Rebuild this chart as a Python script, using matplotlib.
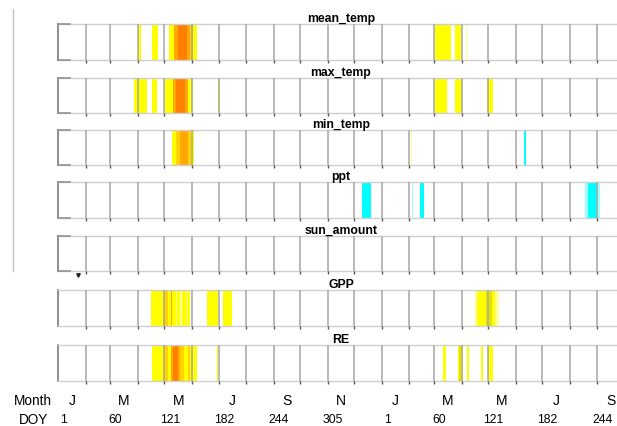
import matplotlib
matplotlib.use("Agg")
import matplotlib.pyplot as plt
import matplotlib.transforms as mtransforms
from matplotlib.lines import Line2D

plt.rcParams["font.family"] = ["Liberation Sans", "DejaVu Sans"]

variables = ["mean_temp", "max_temp", "min_temp", "ppt", "sun_amount", "GPP", "RE"]

# first day of each month, counted in days from 1 Jan of the first year
month_starts = [0, 31, 59, 90, 120, 151, 181, 212, 243, 273, 304, 334,
                365, 396, 424, 455, 485, 516, 546, 577, 608, 638]
month_letters = ["J", "M", "M", "J", "S", "N", "J", "M", "M", "J", "S"]
doy_labels = ["1", "60", "121", "182", "244", "305", "1", "60", "121", "182", "244"]

# significant periods: (start day, end day, class)
mean_temp = [(90.5, 94, "y"), (106.5, 112.5, "y"),
             (125, 130.5, "y"), (130.5, 135.5, "o"), (135.5, 145, "r"),
             (145, 148.5, "o"), (148.5, 152.5, "yo"), (152.5, 157, "y"),
             (424.5, 442.5, "y"), (448, 454.5, "y"), (460, 461.5, "ly")]
max_temp = [(86, 100, "y"), (105.5, 112, "y"),
            (120.5, 130, "y"), (130, 133.5, "o"), (133.5, 143, "r"),
            (143, 147, "o"), (147, 152.5, "y"), (180.5, 182.3, "y"),
            (424.5, 438.5, "y"), (447.5, 455.5, "y"), (483.5, 490, "y")]
min_temp = [(128.7, 133, "y"), (133, 138, "yo"), (138, 146, "o"),
            (146, 150, "yo"), (150, 153, "y"),
            (397.5, 399.5, "ly"), (525.5, 527, "c")]
ppt = [(342.5, 352.5, "c"), (398.5, 400.5, "lc"), (408.5, 412, "c"),
       (594.3, 597.2, "lc"), (597.2, 607.5, "c"), (607.5, 611.5, "lc")]
sun_amount = []
gpp = [(105, 119, "y"), (119, 121, "o"), (121, 124, "yo"), (124, 127, "y"),
       (127, 129, "o"), (129, 133, "y"), (133, 134.5, "ly"), (134.5, 138, "y"),
       (138, 140, "ly"), (140, 145, "y"), (145, 146.5, "ly"), (146.5, 149, "y"),
       (168, 180, "y"), (186, 196, "y"),
       (470.5, 472, "ly"), (472, 482, "y"), (482, 484, "dy"), (484, 486, "y"),
       (486, 489, "dy"), (489, 493, "y"), (493, 497.5, "ly")]
re = [(106, 119, "y"), (119, 124, "yo"), (124, 127, "y"), (127, 130, "o"),
      (130, 135, "r"), (135, 138, "o"), (138, 142, "yo"), (142, 146, "y"),
      (146, 149, "yo"), (149, 157, "y"), (179, 180.5, "y"),
      (434.4, 437.4, "y"), (450.5, 452.5, "y"), (452.5, 454.5, "dy"),
      (454.5, 456, "y"), (461, 463.5, "y"), (476.7, 479.4, "y"), (484.2, 489.8, "y")]
periods = [mean_temp, max_temp, min_temp, ppt, sun_amount, gpp, re]

colors = {"y": "#ffff00", "ly": "#ffff99", "dy": "#e2e200", "yo": "#ffd200",
          "o": "#ffa800", "r": "#ff8000", "c": "#00ffff", "lc": "#9cffff"}

W, H = 617, 427
fig = plt.figure(figsize=(W / 100, H / 100), dpi=100)

# panel top / bottom in pixels
panel_px = [(25, 61), (79, 114), (131, 166), (183, 219), (237, 272), (291, 327), (346, 382)]
left_px, right_px = 58, 624

axes = []
for i, name in enumerate(variables):
    top, bot = panel_px[i]
    ax = fig.add_axes([left_px / W, 1 - bot / H, (right_px - left_px) / W, (bot - top) / H])
    for s, e, c in periods[i]:
        ax.axvspan(s, e, color=colors[c], lw=0, zorder=1)
    ax.set_xlim(0, 638)
    ax.set_ylim(0, 1)
    ax.set_xticks(month_starts[1:-1])
    ax.tick_params(axis="x", direction="out", length=2.5, width=1, color="#555555",
                   labelbottom=False)
    ax.set_yticks([])
    ax.grid(axis="x", color="#a6a6a6", lw=1.1, zorder=2)
    ax.set_axisbelow(False)
    for side in ["top", "bottom"]:
        ax.spines[side].set_color("#cfcfcf")
        ax.spines[side].set_linewidth(1)
    ax.spines["right"].set_visible(False)
    ax.spines["left"].set_color("#7a7a7a")
    ax.spines["left"].set_linewidth(1.2)
    if i < 5:
        # little bracket stubs on the left edge
        ax.plot([0, 13], [1, 1], color="#8a8a8a", lw=1.1, clip_on=False, zorder=3)
        ax.plot([0, 13], [0, 0], color="#8a8a8a", lw=1.1, clip_on=False, zorder=3)
    ax.annotate(name, xy=(0.5, 1), xycoords="axes fraction", xytext=(0, 6),
                textcoords="offset pixels", ha="center", va="center",
                fontsize=8.8, fontweight="bold")
    axes.append(ax)

# month and day-of-year rows under the last panel
ax_last = axes[-1]
trans = mtransforms.blended_transform_factory(ax_last.transData, fig.transFigure)
for k, letter in enumerate(month_letters):
    mid = (month_starts[2 * k] + month_starts[2 * k + 1]) / 2
    fig.text(mid, 1 - 401 / H, letter, transform=trans, ha="center", va="center",
             fontsize=10)
    fig.text(month_starts[2 * k] + 6, 1 - 420 / H, doy_labels[k], transform=trans,
             ha="center", va="center", fontsize=8.8)
fig.text(33 / W, 1 - 401 / H, "Month", ha="center", va="center", fontsize=9.8)
fig.text(34 / W, 1 - 420 / H, "DOY", ha="center", va="center", fontsize=9.8)

# thin frame remnant on the left side of the picture
fig.add_artist(Line2D([13 / W, 13 / W], [1 - 10 / H, 1 - 272 / H], color="#c4c4c4", lw=1))
fig.add_artist(Line2D([78 / W], [1 - 276 / H], marker="v", color="#222222",
                      markersize=2.5, lw=0))

fig.savefig("out.png", dpi=100)
